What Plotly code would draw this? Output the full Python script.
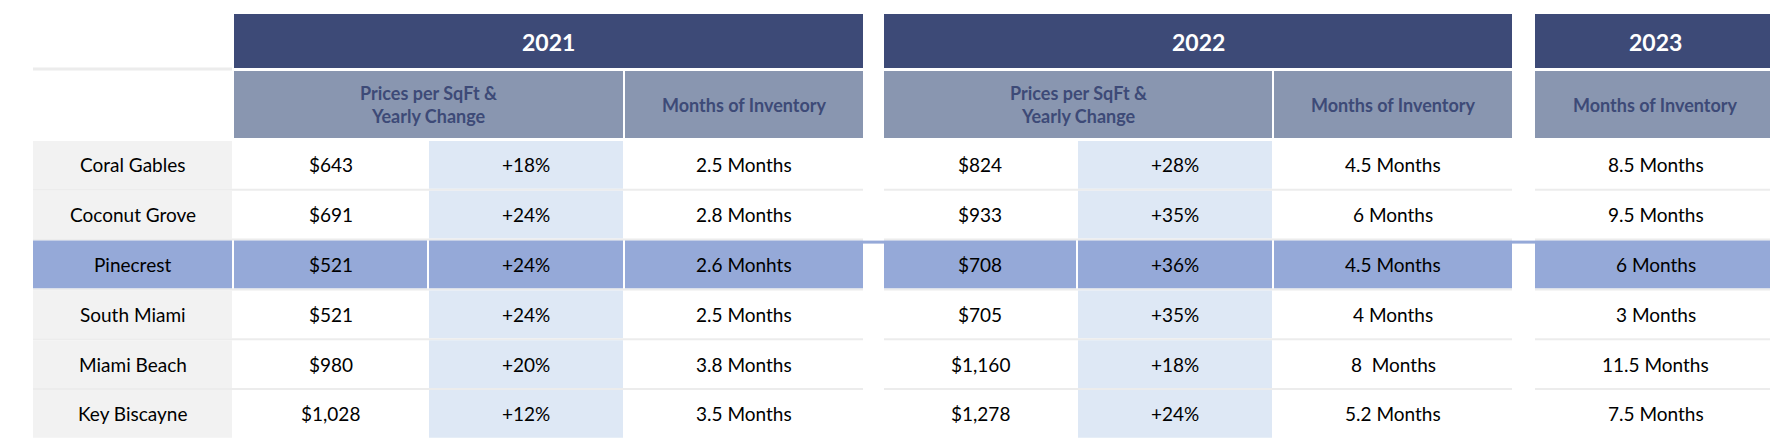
import plotly.graph_objects as go

neighborhoods = ["Coral Gables", "Coconut Grove", "Pinecrest", "South Miami", "Miami Beach", "Key Biscayne"]
years = ["2021", "2022", "2023"]
sub_price = "Prices per SqFt &<br>Yearly Change"
sub_moi = "Months of Inventory"
price_2021 = ["$643", "$691", "$521", "$521", "$980", "$1,028"]
change_2021 = ["+18%", "+24%", "+24%", "+24%", "+20%", "+12%"]
moi_2021 = ["2.5 Months", "2.8 Months", "2.6 Monhts", "2.5 Months", "3.8 Months", "3.5 Months"]
price_2022 = ["$824", "$933", "$708", "$705", "$1,160", "$1,278"]
change_2022 = ["+28%", "+35%", "+36%", "+35%", "+18%", "+24%"]
moi_2022 = ["4.5 Months", "6 Months", "4.5 Months", "4 Months", "8  Months", "5.2 Months"]
moi_2023 = ["8.5 Months", "9.5 Months", "6 Months", "3 Months", "11.5 Months", "7.5 Months"]
highlight = "Pinecrest"

DARK = "#3D4A77"; SUB = "#8996B0"; LABEL_BG = "#F2F2F2"; CHG = "#DEE8F5"; HI = "#95A9D8"; LINE = "#ECECEC"
FONT = "Lato"

label_x = (25, 224)
cols = [
    (226, 419, "p21"), (421, 615, "c21"), (617, 855, "m21"),
    (876, 1068, "p22"), (1070, 1264, "c22"), (1266, 1504, "m22"),
    (1527, 1768, "m23"),
]
data = {"p21": price_2021, "c21": change_2021, "m21": moi_2021,
        "p22": price_2022, "c22": change_2022, "m22": moi_2022, "m23": moi_2023}
year_spans = [(226, 855), (876, 1504), (1527, 1768)]
sub_spans = [[(226, 615, sub_price), (617, 855, sub_moi)],
             [(876, 1264, sub_price), (1266, 1504, sub_moi)],
             [(1527, 1768, sub_moi)]]
y_year = (6, 60); y_sub = (63, 130)
row_top = 133; row_h = 49.8

shapes = []; ann = []
def rect(x0, x1, y0, y1, color):
    shapes.append(dict(type="rect", x0=x0, x1=x1, y0=y0, y1=y1, fillcolor=color, line=dict(width=0), layer="below"))
def text(x, y, t, color="black", size=19, bold=False):
    ann.append(dict(x=x, y=y, text=f"<b>{t}</b>" if bold else t, showarrow=False,
                    font=dict(family=FONT, size=size, color=color), xanchor="center", yanchor="middle"))

shapes.append(dict(type="line", x0=25, x1=224, y0=61, y1=61, line=dict(color=LINE, width=3)))
for (x0, x1), yr, subs in zip(year_spans, years, sub_spans):
    rect(x0, x1, *y_year, DARK)
    text((x0 + x1) / 2, sum(y_year) / 2 + 1, yr, "white", 23, True)
    for sx0, sx1, st in subs:
        rect(sx0, sx1, *y_sub, SUB)
        text((sx0 + sx1) / 2, sum(y_sub) / 2, st, DARK, 18, True)

for i, name in enumerate(neighborhoods):
    y0 = row_top + i * row_h; y1 = y0 + row_h - 2
    yc = (y0 + y1) / 2
    hi = name == highlight
    rect(*label_x, y0, y1, HI if hi else LABEL_BG)
    text(sum(label_x) / 2, yc, name)
    for x0, x1, k in cols:
        if hi:
            rect(x0, x1, y0, y1, HI)
        elif k.startswith("c"):
            rect(x0, x1, y0, y1, CHG)
        text((x0 + x1) / 2, yc, data[k][i])
    if hi:
        for gx0, gx1 in [(855, 876), (1504, 1527)]:
            rect(gx0, gx1, y0, y0 + 3, HI)
    if i < len(neighborhoods) - 1:
        for xs in [(25, 855), (876, 1504), (1527, 1768)]:
            shapes.append(dict(type="line", x0=xs[0], x1=xs[1], y0=y1 + 1, y1=y1 + 1, line=dict(color=LINE, width=2), layer="below"))

fig = go.Figure()
fig.update_layout(width=1778, height=444, margin=dict(l=0, r=0, t=0, b=0),
                  paper_bgcolor="white", plot_bgcolor="white",
                  xaxis=dict(range=[0, 1778], visible=False, fixedrange=True),
                  yaxis=dict(range=[444, 0], visible=False, fixedrange=True),
                  shapes=shapes, annotations=ann, showlegend=False)
fig.write_html("out.html")
